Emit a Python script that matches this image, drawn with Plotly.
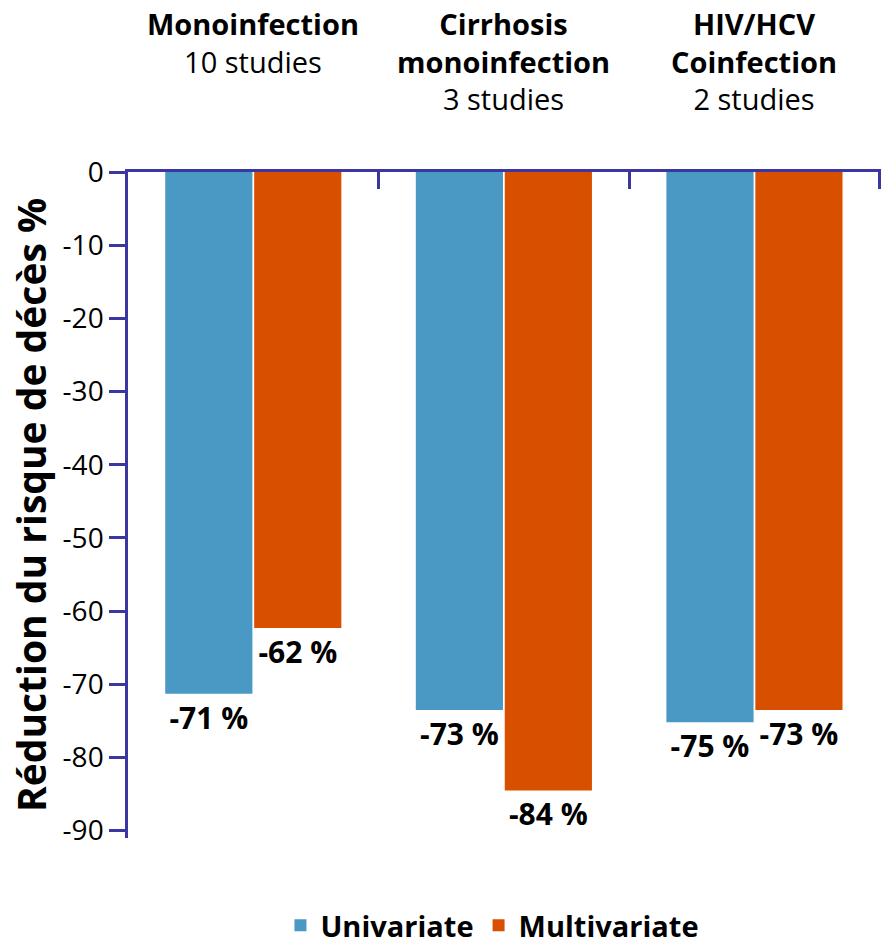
import plotly.graph_objects as go

categories = ["Monoinfection", "Cirrhosis<br>monoinfection", "HIV/HCV<br>Coinfection"]
studies = ["10 studies", "3 studies", "2 studies"]
univariate = [-71.3, -73.5, -75.2]
multivariate = [-62.3, -84.5, -73.5]
univ_labels = ["-71 %", "-73 %", "-75 %"]
multi_labels = ["-62 %", "-84 %", "-73 %"]
y_ticks = [0, -10, -20, -30, -40, -50, -60, -70, -80, -90]
y_tick_text = ["0", "-10", "-20", "-30", "-40", "-50", "-60", "-70", "-80", "-90"]

FONT = "Open Sans"
AXIS = "#3b36a0"

fig = go.Figure()
fig.add_trace(go.Bar(
    name="Univariate", x=categories, y=univariate,
    marker=dict(color="#4a98c4", line=dict(width=0)),
    text=univ_labels, textposition="outside", constraintext="none",
    textfont=dict(family=FONT, size=30, color="black", weight="bold"),
    cliponaxis=False,
))
fig.add_trace(go.Bar(
    name="Multivariate", x=categories, y=multivariate,
    marker=dict(color="#d94f00", line=dict(width=0)),
    text=multi_labels, textposition="outside", constraintext="none",
    textfont=dict(family=FONT, size=30, color="black", weight="bold"),
    cliponaxis=False,
))

for c, s in zip(categories, studies):
    fig.add_annotation(
        x=c, y=1, xref="x", yref="paper", yanchor="top", yshift=170,
        text=f"<b>{c}</b><br>{s}", showarrow=False,
        font=dict(family=FONT, size=29, color="black"), align="center",
    )

fig.update_layout(
    width=883, height=951,
    margin=dict(l=128, r=2, t=172, b=113, autoexpand=False),
    paper_bgcolor="white", plot_bgcolor="white",
    barmode="group", bargap=0.29, bargroupgap=0.02,
    font=dict(family=FONT, color="black"),
    showlegend=True,
    legend=dict(orientation="h", x=0.484, xanchor="center",
                yref="container", y=-0.008, yanchor="bottom",
                font=dict(family=FONT, size=29, color="black", weight="bold"),
                itemwidth=30),
)
fig.update_xaxes(
    side="top", showticklabels=False, showline=True, linecolor=AXIS, linewidth=2.5,
    ticks="inside", tickson="boundaries", ticklen=17, tickwidth=2.5, tickcolor=AXIS,
    showgrid=False, zeroline=False, range=[-0.5, 2.505],
)
fig.update_yaxes(
    range=[-91, 0], tickvals=y_ticks, ticktext=y_tick_text,
    showline=True, linecolor=AXIS, linewidth=2.5,
    ticks="outside", ticklen=16, tickwidth=2.5, tickcolor=AXIS,
    tickfont=dict(family=FONT, size=28, color="black"),
    showgrid=False, zeroline=False,
    title=dict(text="<b>Réduction du risque de décès %</b>", standoff=4,
               font=dict(family=FONT, size=39, color="black")),
)

fig.write_html("out.html")
